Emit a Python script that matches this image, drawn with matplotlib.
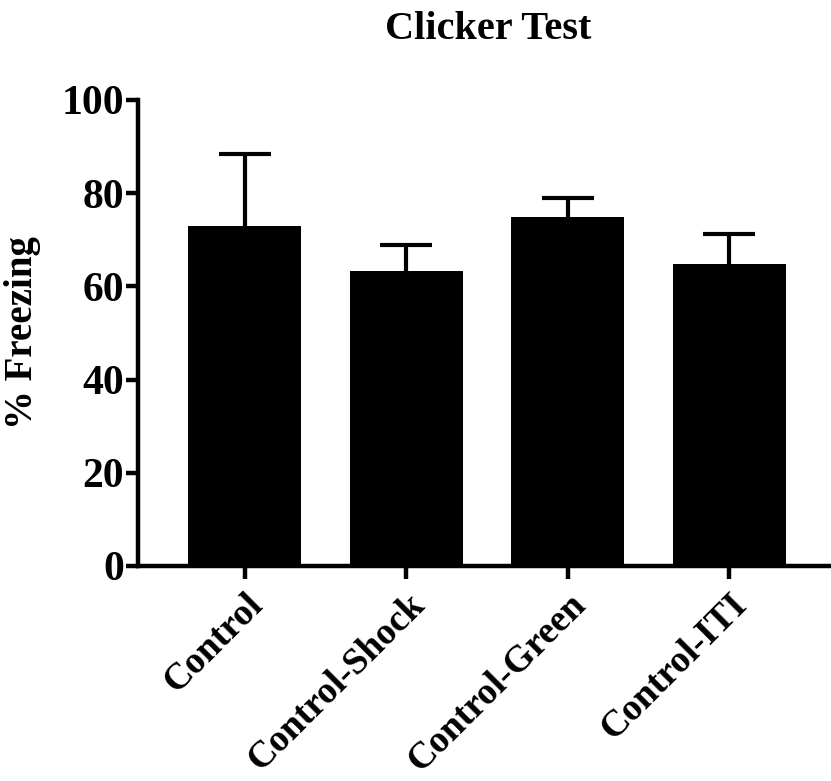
import matplotlib.pyplot as plt
import numpy as np

# Dados do gráfico
grupos = ['Control', 'Control-Shock', 'Control-Green', 'Control-ITI']
media = [72.9, 63.4, 74.8, 64.7]
erro = [15.5, 5.5, 4.1, 6.5]

plt.rcParams['font.family'] = ['Liberation Serif', 'DejaVu Serif']
plt.rcParams['font.weight'] = 'bold'
plt.rcParams['axes.labelweight'] = 'bold'

fig = plt.figure(figsize=(8.31, 7.81), dpi=100)
ax = fig.add_axes([0.166, 0.2753, 0.834, 0.5967])

x = np.arange(len(grupos))
# Barras pretas; a metade de baixo do erro fica escondida atrás da barra
ax.bar(x, media, width=0.7, color='black', zorder=2)
ax.errorbar(x, media, yerr=erro, fmt='none', ecolor='black',
            elinewidth=3, capsize=19, capthick=3, zorder=1)

ax.set_xlim(-0.663, 3.63)
ax.set_ylim(0, 100)
ax.set_yticks([0, 20, 40, 60, 80, 100])
ax.set_xticks(x)
ax.set_xticklabels(grupos, rotation=45, ha='right', rotation_mode='anchor', fontsize=27)
ax.tick_params(axis='y', labelsize=30, width=3.2, length=9, pad=1)
ax.tick_params(axis='x', width=3.2, length=9, pad=6)

for lado in ['top', 'right']:
    ax.spines[lado].set_visible(False)
for lado in ['left', 'bottom']:
    ax.spines[lado].set_linewidth(3.2)

ax.set_ylabel('% Freezing', fontsize=28, labelpad=15)
fig.text(0.588, 0.962, 'Clicker Test', ha='center', va='center', fontsize=29, weight='bold')

fig.savefig('out.png', dpi=100)
